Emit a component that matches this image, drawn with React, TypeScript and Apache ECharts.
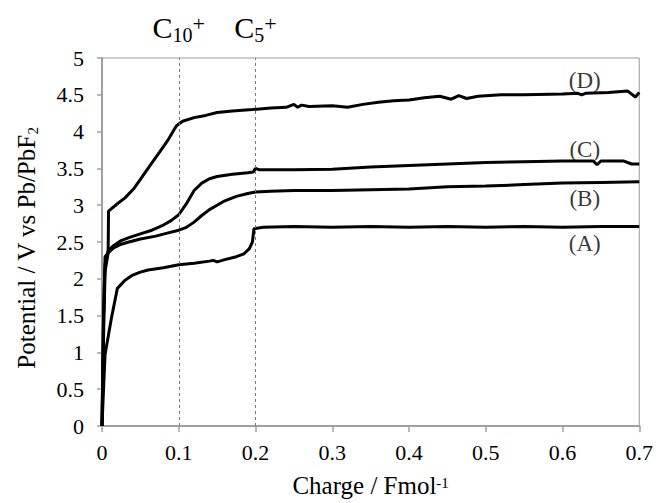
import React, { useEffect, useRef } from "react";
import * as echarts from "echarts";

const FONT = "'Liberation Serif', 'Times New Roman', serif";

const xTicks = { min: 0, max: 0.7, interval: 0.1 };
const yTicks = { min: 0, max: 5, interval: 0.5 };

const seriesA: [number, number][] = [
  [0, 0], [0.002, 0.5], [0.004, 0.97], [0.012, 1.45], [0.02, 1.87], [0.03, 1.98], [0.04, 2.05],
  [0.05, 2.09], [0.06, 2.12], [0.08, 2.15], [0.1, 2.19], [0.12, 2.21], [0.14, 2.24], [0.145, 2.25],
  [0.15, 2.23], [0.16, 2.26], [0.175, 2.3], [0.185, 2.34], [0.192, 2.41], [0.196, 2.5], [0.198, 2.68],
  [0.21, 2.7], [0.25, 2.71], [0.3, 2.7], [0.35, 2.71], [0.4, 2.7], [0.45, 2.71], [0.5, 2.7],
  [0.55, 2.71], [0.6, 2.7], [0.65, 2.71], [0.7, 2.71],
];

const seriesB: [number, number][] = [
  [0, 0], [0.002, 1.2], [0.004, 2.1], [0.008, 2.35], [0.015, 2.42], [0.025, 2.47], [0.035, 2.5],
  [0.05, 2.54], [0.07, 2.58], [0.085, 2.62], [0.1, 2.66], [0.11, 2.7], [0.12, 2.77], [0.13, 2.86],
  [0.14, 2.94], [0.15, 3.0], [0.16, 3.06], [0.175, 3.12], [0.19, 3.16], [0.2, 3.18], [0.22, 3.19],
  [0.25, 3.2], [0.3, 3.2], [0.35, 3.21], [0.4, 3.22], [0.45, 3.25], [0.5, 3.26], [0.55, 3.28],
  [0.6, 3.3], [0.65, 3.31], [0.7, 3.32],
];

const seriesC: [number, number][] = [
  [0, 0], [0.002, 1.5], [0.004, 2.2], [0.008, 2.38], [0.015, 2.45], [0.025, 2.52], [0.035, 2.56],
  [0.05, 2.61], [0.065, 2.66], [0.08, 2.73], [0.09, 2.79], [0.1, 2.87], [0.11, 3.02], [0.12, 3.2],
  [0.13, 3.3], [0.14, 3.36], [0.15, 3.39], [0.17, 3.42], [0.19, 3.44], [0.197, 3.45], [0.2, 3.5],
  [0.205, 3.48], [0.25, 3.48], [0.3, 3.49], [0.35, 3.52], [0.4, 3.54], [0.45, 3.56], [0.5, 3.58],
  [0.55, 3.59], [0.6, 3.6], [0.64, 3.6], [0.645, 3.55], [0.65, 3.6], [0.68, 3.6], [0.69, 3.56],
  [0.7, 3.56],
];

const seriesD: [number, number][] = [
  [0, 0], [0.002, 1.5], [0.004, 2.3], [0.008, 2.35], [0.0085, 2.92], [0.02, 3.02], [0.03, 3.1],
  [0.041, 3.22], [0.05, 3.35], [0.062, 3.53], [0.075, 3.72], [0.085, 3.87], [0.097, 4.08],
  [0.105, 4.14], [0.12, 4.19], [0.135, 4.22], [0.15, 4.26], [0.17, 4.28], [0.196, 4.3], [0.22, 4.32],
  [0.24, 4.33], [0.25, 4.37], [0.255, 4.33], [0.26, 4.36], [0.27, 4.34], [0.3, 4.35], [0.32, 4.33],
  [0.34, 4.37], [0.36, 4.4], [0.38, 4.42], [0.4, 4.43], [0.42, 4.46], [0.44, 4.48], [0.455, 4.44],
  [0.465, 4.49], [0.475, 4.45], [0.49, 4.48], [0.52, 4.5], [0.55, 4.5], [0.6, 4.51], [0.62, 4.52],
  [0.625, 4.5], [0.63, 4.52], [0.66, 4.53], [0.685, 4.55], [0.695, 4.47], [0.7, 4.53],
];

const curveLabels: { name: string; value: [number, number] }[] = [
  { name: "(A)", value: [0.629, 2.48] },
  { name: "(B)", value: [0.629, 3.09] },
  { name: "(C)", value: [0.629, 3.76] },
  { name: "(D)", value: [0.629, 4.7] },
];

const markers: { x: number; text: string }[] = [
  { x: 0.1, text: "{c|C}{sub|10}{sup|+}" },
  { x: 0.2, text: "{c|C}{sub|5}{sup|+}" },
];

const lineStyle = { color: "#000", width: 3 };

export default function App() {
  const ref = useRef<HTMLDivElement>(null);
  useEffect(() => {
    if (!ref.current) return;
    const chart = echarts.init(ref.current, undefined, { renderer: "svg" });
    const mkLine = (name: string, data: [number, number][]) => ({
      name,
      type: "line",
      data,
      showSymbol: false,
      symbol: "none",
      lineStyle,
      silent: true,
    });
    chart.setOption({
      animation: false,
      backgroundColor: "#fff",
      textStyle: { fontFamily: FONT },
      grid: {
        left: 102,
        right: 14,
        top: 58,
        bottom: 74,
        show: true,
        borderColor: "#9a9a9a",
        borderWidth: 1,
      },
      xAxis: {
        type: "value",
        min: xTicks.min,
        max: xTicks.max,
        interval: xTicks.interval,
        name: "Charge / Fmol{sup|-1}",
        nameLocation: "middle",
        nameGap: 47,
        nameTextStyle: {
          fontSize: 25,
          color: "#000",
          fontFamily: FONT,
          rich: { sup: { fontSize: 15, verticalAlign: "middle", fontFamily: FONT, color: "#000", padding: [0, 0, 6, 0] } },
        },
        splitLine: { show: false },
        axisLine: { lineStyle: { color: "#a0a0a0", width: 2 } },
        axisTick: { show: true, length: 6, lineStyle: { color: "#a0a0a0", width: 1.5 } },
        axisLabel: {
          fontSize: 22,
          color: "#000",
          fontFamily: FONT,
          margin: 15,
          formatter: (v: number) => (v === 0 ? "0" : v.toFixed(1)),
        },
      },
      yAxis: {
        type: "value",
        min: yTicks.min,
        max: yTicks.max,
        interval: yTicks.interval,
        name: "Potential / V vs Pb/PbF{sub|2}",
        nameLocation: "middle",
        nameGap: 62,
        nameTextStyle: {
          fontSize: 25,
          lineHeight: 28,
          color: "#000",
          fontFamily: FONT,
          padding: [0, 12, 0, 0],
          rich: { sub: { fontSize: 15, lineHeight: 10, verticalAlign: "bottom", fontFamily: FONT, color: "#000" } },
        },
        splitLine: { show: false },
        axisLine: { show: true, lineStyle: { color: "#a0a0a0", width: 2 } },
        axisTick: { show: true, length: 5, lineStyle: { color: "#a0a0a0", width: 1.5 } },
        axisLabel: {
          fontSize: 22,
          color: "#000",
          fontFamily: FONT,
          margin: 18,
          formatter: (v: number) => String(Math.round(v * 10) / 10),
        },
      },
      series: [
        {
          ...mkLine("A", seriesA),
          markLine: {
            silent: true,
            symbol: "none",
            animation: false,
            lineStyle: { color: "#777", width: 1, type: [3, 3] },
            label: {
              show: true,
              position: "end",
              distance: 13,
              color: "#000",
              rich: {
                c: { fontSize: 30, lineHeight: 36, fontFamily: FONT, color: "#000" },
                sub: { fontSize: 20, lineHeight: 19, verticalAlign: "bottom", fontFamily: FONT, color: "#000" },
                sup: { fontSize: 22, lineHeight: 22, verticalAlign: "top", fontFamily: FONT, color: "#000", padding: [3, 0, 0, 0] },
              },
            },
            data: markers.map((m) => ({ xAxis: m.x, label: { formatter: m.text } })),
          },
        },
        mkLine("B", seriesB),
        mkLine("C", seriesC),
        mkLine("D", seriesD),
        {
          name: "labels",
          type: "scatter",
          symbolSize: 0,
          silent: true,
          data: curveLabels,
          label: {
            show: true,
            position: "inside",
            formatter: "{b}",
            fontSize: 23,
            color: "#000",
            fontFamily: FONT,
          },
        },
      ],
    });
    return () => chart.dispose();
  }, []);
  return <div ref={ref} style={{ width: 656, height: 503, position: "absolute", left: 0, top: 0 }} />;
}
